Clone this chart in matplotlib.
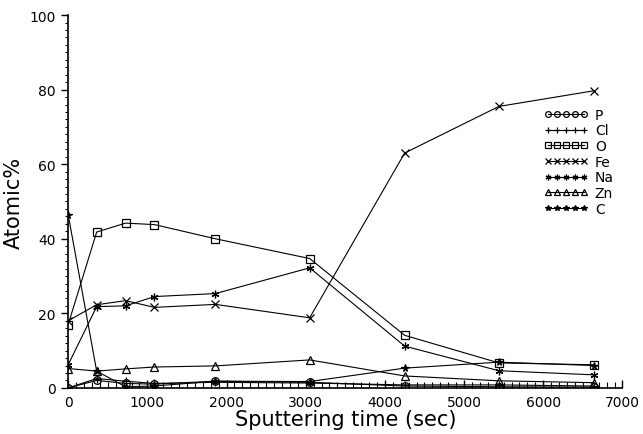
import matplotlib
matplotlib.use('Agg')
import matplotlib.pyplot as plt
from matplotlib.ticker import MultipleLocator

# sputtering time (sec)
time = [0, 360, 725, 1090, 1860, 3050, 4250, 5440, 6640]

# atomic % per element
P = [0, 2.0, 1.2, 1.0, 1.8, 1.5, 0.5, 0.3, 0.2]
Cl = [0, 2.5, 1.8, 1.2, 1.5, 1.3, 0.8, 0.8, 0.5]
O = [17, 41.8, 44.2, 43.8, 40.0, 34.7, 14.1, 6.7, 6.2]
Fe = [18, 22.3, 23.4, 21.6, 22.4, 18.8, 63.0, 75.5, 79.7]
Na = [6.2, 21.8, 22.0, 24.5, 25.3, 32.2, 11.2, 4.6, 3.5]
Zn = [5.2, 4.5, 5.1, 5.6, 5.9, 7.5, 3.2, 1.9, 1.4]
C = [46.5, 4.5, 0.3, 0.5, 1.8, 1.7, 5.3, 6.9, 6.0]

names = ['P', 'Cl', 'O', 'Fe', 'Na', 'Zn', 'C']
values = [P, Cl, O, Fe, Na, Zn, C]
markers = ['o', '+', 's', 'x', (6, 2, 0), '^', '*']

fig = plt.figure(figsize=(6.43, 4.35), dpi=100)
ax = fig.add_axes([0.106, 0.106, 0.862, 0.857])

for name, vals, m in zip(names, values, markers):
    filled = m == '*'
    ax.plot(time, vals, color='black', lw=0.8, marker=m, markersize=5.5,
            markerfacecolor='black' if filled else 'none',
            markeredgecolor='black', markeredgewidth=0.9, label=name)

ax.set_xlim(0, 7000)
ax.set_ylim(0, 100)
ax.xaxis.set_major_locator(MultipleLocator(1000))
ax.xaxis.set_minor_locator(MultipleLocator(100))
ax.yaxis.set_major_locator(MultipleLocator(20))
ax.yaxis.set_minor_locator(MultipleLocator(2))

for s in ['top', 'right']:
    ax.spines[s].set_visible(False)
ax.spines['left'].set_linewidth(1.2)
ax.spines['bottom'].set_linewidth(1.2)

ax.tick_params(axis='x', which='major', direction='in', length=6, width=1, labelsize=10, pad=5)
ax.tick_params(axis='x', which='minor', direction='in', length=4, width=0.8)
ax.tick_params(axis='y', which='major', direction='out', length=5, width=1, labelsize=10, pad=4)
ax.tick_params(axis='y', which='minor', direction='out', length=2.5, width=0.8)

ax.set_xlabel('Sputtering time (sec)', fontsize=15, labelpad=0)
ax.set_ylabel('Atomic%', fontsize=15, labelpad=4)

ax.legend(loc='upper left', bbox_to_anchor=(0.845, 0.77), frameon=False,
          numpoints=5, markerscale=0.75, handlelength=3.2, handletextpad=0.5,
          labelspacing=0.12, fontsize=10, borderpad=0)

fig.savefig('out.png', dpi=100)
